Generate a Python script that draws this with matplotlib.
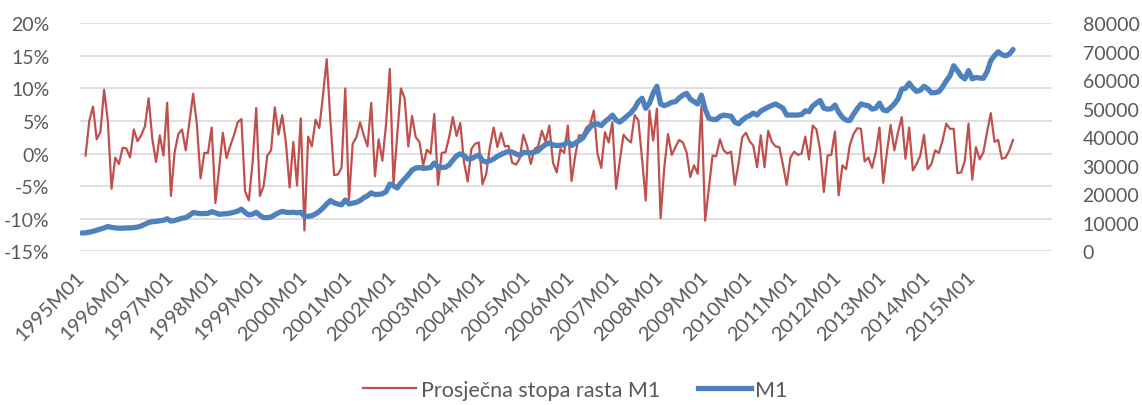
import numpy as np
import matplotlib
matplotlib.use("Agg")
import matplotlib.pyplot as plt
from matplotlib.lines import Line2D

# ---- data ----
tick_labels = ["1995M01", "1996M01", "1997M01", "1998M01", "1999M01", "2000M01",
               "2001M01", "2002M01", "2003M01", "2004M01", "2005M01", "2006M01",
               "2007M01", "2008M01", "2009M01", "2010M01", "2011M01", "2012M01",
               "2013M01", "2014M01", "2015M01"]

# average growth rate of M1, % (first month undefined)
growth = [np.nan, -0.3, 5.0, 7.2, 2.2, 3.3, 9.8, 5.0, -5.4, -0.6, -1.6, 0.9,
          0.8, -0.6, 3.7, 1.9, 2.8, 4.2, 8.5, 2.2, -1.3, 2.8, -0.3, 7.8,
          -6.5, 0.2, 3.0, 3.7, 0.5, 4.8, 9.2, 4.5, -3.8, 0.1, 0.1, 4.0,
          -7.6, -2.3, 3.2, -0.7, 1.2, 2.8, 4.8, 5.3, -5.8, -7.2, -1.5, 7.0,
          -6.5, -5.0, -0.3, 0.5, 7.1, 2.9, 5.9, 1.7, -5.2, 1.8, -4.9, 5.4,
          -11.8, 2.6, 1.1, 5.2, 3.9, 8.9, 14.5, 5.0, -3.3, -3.2, -2.2, 10.0,
          -7.2, 1.5, 2.5, 4.8, 2.8, 1.1, 7.8, -3.5, 2.2, -1.1, 4.5, 13.0,
          -4.7, 2.8, 10.0, 8.5, 1.1, 5.8, 2.5, 1.8, -1.8, 0.6, 0.0, 6.1,
          -4.8, 0.1, 0.2, 2.5, 5.6, 2.7, 4.7, -1.3, -4.3, 0.7, 1.5, 1.7,
          -4.7, -3.1, 1.1, 4.0, 1.0, 3.2, 1.1, 1.2, -1.4, -1.7, -0.8, 2.9,
          1.2, -1.6, 0.7, 1.1, 3.5, 1.8, 4.3, -1.4, -2.9, 0.7, 0.1, 4.3,
          -4.2, -0.3, 2.8, 2.8, 4.0, 4.5, 6.6, 0.0, -2.2, 3.3, 1.7, 4.8,
          -5.4, -1.1, 2.9, 2.2, 1.7, 5.9, 5.1, -0.8, -7.2, 6.6, 2.0, 6.9,
          -9.9, -2.1, 3.0, -0.2, 1.0, 2.1, 1.7, 0.2, -3.6, -1.8, -3.1, 7.3,
          -10.3, -5.4, -0.3, -0.4, 2.2, 0.5, 0.0, 0.3, -4.8, -1.6, 2.5, 3.2,
          1.9, 1.2, -2.1, 2.8, -2.1, 3.5, 1.8, 1.1, 1.0, -1.8, -4.8, -0.6,
          0.3, -0.2, 0.0, 2.6, -0.9, 4.3, 3.7, 0.5, -5.9, -0.3, -0.2, 3.4,
          -6.4, -1.8, -2.4, 1.3, 3.0, 3.9, 3.8, -1.2, -0.6, -2.2, 0.2, 4.0,
          -4.5, 0.2, 4.4, 0.5, 3.3, 5.6, -0.8, 4.0, -2.6, -1.6, -0.3, 2.9,
          -2.4, -1.6, 0.5, 0.1, 2.0, 4.6, 3.8, 3.8, -3.0, -2.9, -1.1, 4.6,
          -4.0, 1.0, -0.9, 0.2, 3.3, 6.2, 1.8, 2.1, -0.8, -0.6, 0.5, 2.1]

# M1, thousands
m1_k = [6.4, 6.5, 6.7, 7.0, 7.4, 7.8, 8.2, 8.7, 8.4, 8.2, 8.1, 8.1,
        8.2, 8.2, 8.3, 8.5, 8.9, 9.5, 10.1, 10.4, 10.5, 10.7, 10.9, 11.4,
        10.6, 10.8, 11.2, 11.6, 11.8, 12.6, 13.6, 13.4, 13.2, 13.3, 13.3, 13.9,
        13.5, 13.0, 13.1, 13.2, 13.4, 13.7, 14.1, 14.8, 13.6, 12.8, 13.0, 13.7,
        12.6, 11.8, 11.8, 12.0, 12.8, 13.5, 14.0, 13.7, 13.6, 13.7, 13.5, 13.7,
        12.3, 12.3, 12.5, 13.1, 14.0, 15.2, 16.6, 17.8, 17.0, 16.6, 16.3, 18.0,
        16.6, 16.9, 17.2, 17.8, 18.8, 19.5, 20.5, 19.9, 20.0, 20.2, 20.9, 23.6,
        23.0, 22.2, 24.0, 25.4, 26.8, 28.5, 29.2, 29.4, 29.1, 29.2, 29.4, 31.0,
        29.5, 29.4, 29.5, 30.3, 32.0, 33.5, 34.2, 33.6, 32.4, 32.5, 33.2, 33.8,
        31.8, 31.3, 31.8, 32.4, 33.3, 34.0, 34.6, 35.0, 34.8, 34.2, 33.6, 34.7,
        34.6, 34.5, 34.8, 35.3, 36.5, 37.5, 38.0, 37.3, 37.1, 37.2, 37.4, 38.5,
        37.1, 38.0, 38.8, 39.7, 41.8, 43.5, 44.7, 44.7, 44.1, 45.5, 46.5, 47.8,
        46.0, 45.3, 46.4, 47.5, 48.6, 50.2, 52.5, 53.7, 50.2, 52.0, 55.5, 57.9,
        51.7, 51.1, 51.6, 52.3, 52.5, 53.8, 54.8, 55.4, 53.4, 52.5, 51.7, 54.8,
        49.9, 46.7, 46.3, 46.2, 47.3, 47.8, 47.6, 47.4, 45.3, 44.7, 46.0, 47.0,
        47.6, 48.5, 47.8, 49.2, 49.9, 50.6, 51.2, 51.7, 51.0, 50.2, 47.8, 47.8,
        47.8, 47.8, 48.0, 49.3, 49.0, 51.0, 52.0, 52.9, 50.2, 49.9, 50.0, 51.3,
        48.8, 47.0, 46.0, 45.9, 48.1, 50.0, 51.7, 51.3, 51.1, 49.9, 50.2, 52.0,
        49.6, 49.3, 50.4, 51.7, 53.5, 56.9, 57.2, 59.0, 57.3, 56.1, 56.5, 57.9,
        57.0, 55.6, 55.7, 56.0, 57.7, 59.8, 61.6, 65.1, 63.4, 61.5, 60.5, 63.4,
        60.5, 61.0, 60.8, 60.7, 63.0, 66.9, 68.6, 70.0, 69.0, 68.6, 69.2, 70.8]

pct_ticks = [-15, -10, -5, 0, 5, 10, 15, 20]
pct_labels = ["-15%", "-10%", "-5%", "0%", "5%", "10%", "15%", "20%"]
m1_ticks = [0, 10000, 20000, 30000, 40000, 50000, 60000, 70000, 80000]
m1_labels = ["0", "10000", "20000", "30000", "40000", "50000", "60000", "70000", "80000"]
n_slots = 262  # category slots on the axis (includes trailing empty rows)

# ---- style ----
RED = "#C0504D"
BLUE = "#4F81BD"
GRID = "#D9D9D9"
TXT = "#595959"
plt.rcParams["font.family"] = ["Lato", "DejaVu Sans"]
FS = 14

x = np.arange(len(m1_k))
m1 = np.array(m1_k) * 1000.0

fig = plt.figure(figsize=(11.42, 4.06), dpi=100)
ax = fig.add_axes([80 / 1142, 1 - 252.3 / 406, 972 / 1142, 228 / 406])
ax2 = ax.twinx()

ax.plot(x, growth, color=RED, lw=1.6, solid_joinstyle="round")
ax2.plot(x, m1, color=BLUE, lw=3.8, solid_joinstyle="round", solid_capstyle="round")

ax.set_xlim(-0.5, n_slots - 0.5)
ax.set_ylim(-15, 20)
ax2.set_ylim(0, 80000)

ax.set_yticks(pct_ticks, pct_labels)
ax2.set_yticks(m1_ticks, m1_labels)
ax.set_xticks(np.arange(len(tick_labels)) * 12, tick_labels)

ax.grid(axis="y", color=GRID, lw=1.2)
ax.set_axisbelow(True)
for a in (ax, ax2):
    for s in a.spines.values():
        s.set_visible(False)

ax.tick_params(axis="y", length=0, pad=22, labelsize=FS, labelcolor=TXT)
ax2.tick_params(axis="y", length=0, pad=22, labelsize=FS, labelcolor=TXT)
ax.tick_params(axis="x", length=0, pad=16, labelsize=14.6, labelcolor=TXT)
for lab in ax.get_xticklabels():
    lab.set_rotation(45)
    lab.set_ha("right")
    lab.set_va("center")
    lab.set_rotation_mode("anchor")

handles = [Line2D([], [], color=RED, lw=1.6), Line2D([], [], color=BLUE, lw=3.8)]
fig.legend(handles, ["Prosječna stopa rasta M1", "M1"], loc="center",
           bbox_to_anchor=(0.504, 1 - 391 / 406), ncol=2, frameon=False,
           fontsize=15.5, labelcolor=TXT, handlelength=2.45, handletextpad=0.22,
           columnspacing=1.75)

fig.savefig("out.png", dpi=100)
